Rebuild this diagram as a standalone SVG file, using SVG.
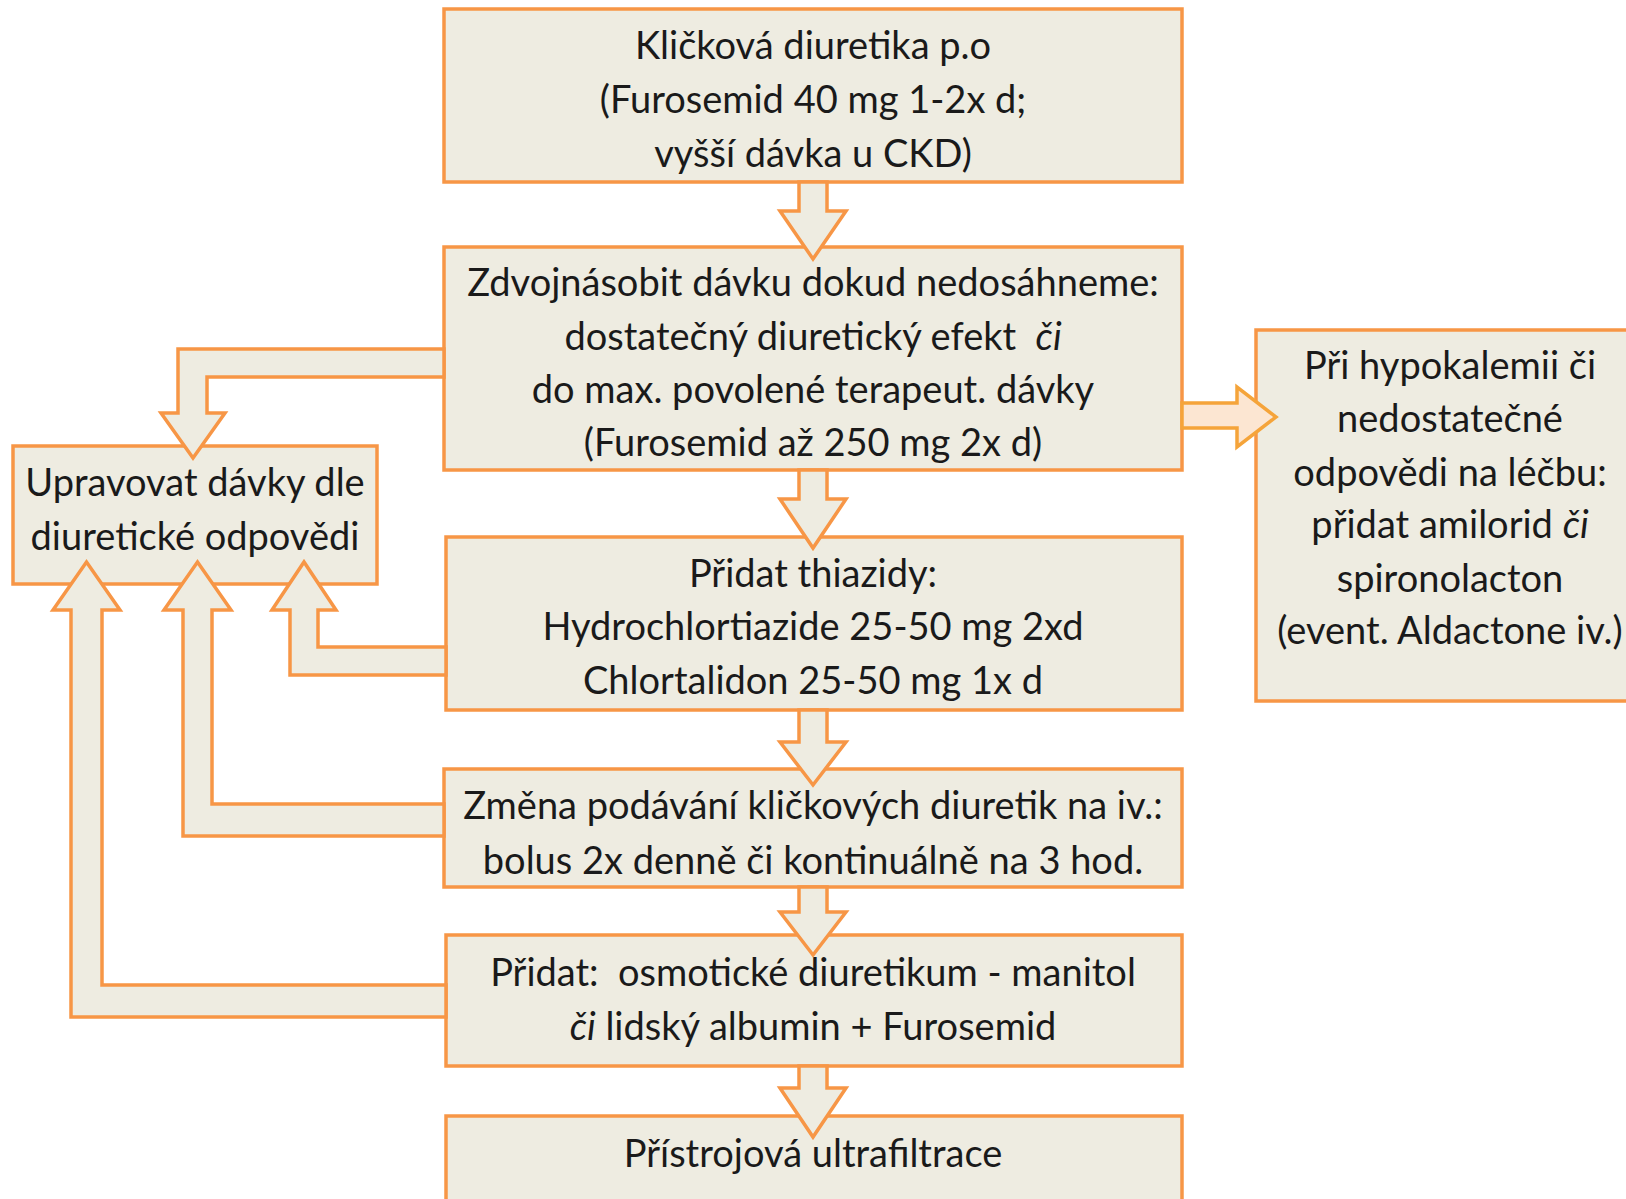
<svg xmlns="http://www.w3.org/2000/svg" width="1626" height="1199" viewBox="0 0 1626 1199">
<style>
.box{fill:#EEECE1;stroke:#F79646;stroke-width:3.5}
.arr{fill:#EEECE1;stroke:#F79646;stroke-width:3.5;stroke-linejoin:miter}
.arr2{fill:#FCE6D2;stroke:#F5A43A;stroke-width:3.5}
text{font-family:Lato,"Noto Sans",sans-serif;font-size:38px;fill:#1a1a1a;text-anchor:middle;white-space:pre}
.i{font-style:italic}
</style>
<rect width="1626" height="1199" fill="#ffffff"/>
<g id="n1"><rect class="box" x="444" y="9" width="738" height="173"/>
<text x="813" y="59">Kličková diuretika p.o</text>
<text x="813" y="113">(Furosemid 40 mg 1-2x d;</text>
<text x="813" y="167">vyšší dávka u CKD)</text></g>
<g id="n2"><rect class="box" x="444" y="247" width="738" height="223"/>
<text x="813" y="296">Zdvojnásobit dávku dokud nedosáhneme:</text>
<text x="813" y="350">dostatečný diuretický efekt  <tspan class="i">či</tspan></text>
<text x="813" y="403">do max. povolené terapeut. dávky</text>
<text x="813" y="456">(Furosemid až 250 mg 2x d)</text></g>
<g id="n3"><rect class="box" x="1256" y="330" width="390" height="371"/>
<text x="1450" y="379">Při hypokalemii či</text>
<text x="1450" y="432">nedostatečné</text>
<text x="1450" y="486">odpovědi na léčbu:</text>
<text x="1450" y="538">přidat amilorid <tspan class="i">či</tspan></text>
<text x="1450" y="592">spironolacton</text>
<text x="1450" y="644">(event. Aldactone iv.)</text></g>
<g id="n4"><rect class="box" x="13" y="446" width="364" height="138"/>
<text x="195" y="496">Upravovat dávky dle</text>
<text x="195" y="550">diuretické odpovědi</text></g>
<g id="n5"><rect class="box" x="446" y="537" width="736" height="173"/>
<text x="813" y="587">Přidat thiazidy:</text>
<text x="813" y="640">Hydrochlortiazide 25-50 mg 2xd</text>
<text x="813" y="694">Chlortalidon 25-50 mg 1x d</text></g>
<g id="n6"><rect class="box" x="444" y="769" width="738" height="118"/>
<text x="813" y="819">Změna podávání kličkových diuretik na iv.:</text>
<text x="813" y="874">bolus 2x denně či kontinuálně na 3 hod.</text></g>
<g id="n7"><rect class="box" x="446" y="935" width="736" height="131"/>
<text x="813" y="986">Přidat:  osmotické diuretikum - manitol</text>
<text x="813" y="1040"><tspan class="i">či</tspan> lidský albumin + Furosemid</text></g>
<g id="n8"><rect class="box" x="446" y="1116" width="736" height="100"/>
<text x="813" y="1167">Přístrojová ultrafiltrace</text></g>
<g id="connectors">
<polygon class="arr" points="799,182 799,211 780,211 813,259 846,211 827,211 827,182"/>
<polygon class="arr" points="799,470 799,499 780,499 813,548 846,499 827,499 827,470"/>
<polygon class="arr" points="799,710 799,742 780,742 813,785 846,742 827,742 827,710"/>
<polygon class="arr" points="799,887 799,912 780,912 813,955 846,912 827,912 827,887"/>
<polygon class="arr" points="799,1066 799,1088 780,1088 813,1137 846,1088 827,1088 827,1066"/>
<polygon class="arr2" points="1182,403 1237,403 1237,387 1276,417 1237,447 1237,428 1182,428"/>
<polygon class="arr" points="444,349 178,349 178,413 161,413 193,458 225,413 207,413 207,377 444,377"/>
<polygon class="arr" points="446,675 290,675 290,610 272,610 304,562 336,610 318,610 318,647 446,647"/>
<polygon class="arr" points="444,836 183,836 183,610 164,610 197.5,562 231,610 212,610 212,804 444,804"/>
<polygon class="arr" points="446,1017 71,1017 71,610 53,610 86.5,562 120,610 102,610 102,985 446,985"/>
</g>
</svg>
